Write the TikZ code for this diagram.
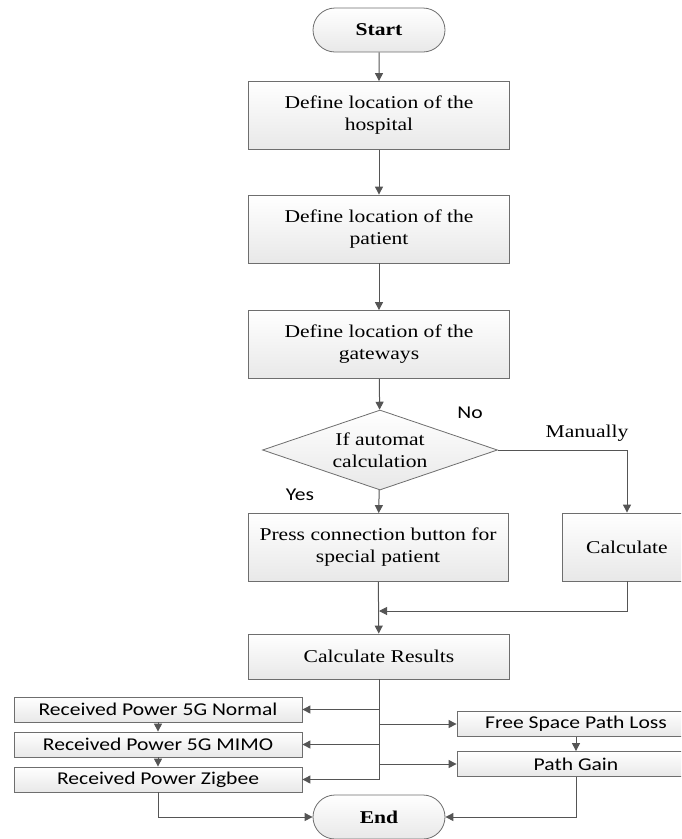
\documentclass[tikz,border=0pt]{standalone}
\usepackage{fontspec}
\setmainfont{Liberation Serif}[FakeStretch=1.2]
\newfontfamily\calibri{Carlito}[FakeStretch=1.2]
\usetikzlibrary{arrows.meta,shapes.geometric,shapes.misc}
\definecolor{linegray}{RGB}{85,85,85}
\definecolor{edgegray}{RGB}{110,110,110}
\definecolor{boxgray}{RGB}{232,232,232}

\begin{document}
\begin{tikzpicture}[x=1pt,y=-1pt,
  font=\fontsize{18}{22}\selectfont,
  box/.style={draw=edgegray, line width=0.8pt, top color=white, bottom color=boxgray, inner sep=0pt, align=center},
  bigbox/.style={box, minimum width=261pt, minimum height=68pt},
  small/.style={box, font=\calibri\fontsize{18}{22}\selectfont, minimum height=25pt},
  term/.style={box, rounded rectangle, minimum width=132pt, minimum height=44pt, font=\fontsize{18}{22}\selectfont\bfseries},
  decision/.style={box, diamond, aspect=2.94, minimum width=235pt, minimum height=80pt},
  line/.style={draw=linegray, line width=1pt},
  arr/.style={line, -{Triangle[length=8pt,width=8pt]}}]
\clip (0,0) rectangle (681,839);
\node[term] at (379,30) (start) {Start};
\node[bigbox] at (379,115.5) (hosp) {Define location of the\\hospital};
\node[bigbox] at (379,229) (pat) {Define location of the\\patient};
\node[bigbox] at (379,344.5) (gate) {Define location of the\\gateways};
\node[decision] at (380,450) (auto) {If automat\\calculation};
\node[bigbox, minimum width=260pt] at (378,547.5) (press) {Press connection button for\\special patient};
\node[box, minimum width=130pt, minimum height=68pt] at (627,547) (calc) {Calculate};
\node[bigbox, minimum height=45pt] at (379,656.5) (res) {Calculate Results};
\node[small, minimum width=288pt] at (158,709.5) (normal) {Received Power 5G Normal};
\node[small, minimum width=288pt] at (158,744.5) (mimo) {Received Power 5G MIMO};
\node[small, minimum width=288pt] at (158,779.5) (zigbee) {Received Power Zigbee};
\node[small, minimum width=238pt] at (576,724) (fspl) {Free Space Path Loss};
\node[small, minimum width=238pt] at (576,764) (gain) {Path Gain};
\node[term] at (379,817) (end) {End};
\node[font=\calibri\fontsize{18}{22}\selectfont] at (470,413) (no) {No};
\node at (587,433) (manual) {Manually};
\node[font=\calibri\fontsize{18}{22}\selectfont] at (300,495) (yes) {Yes};
\coordinate (join) at (379,611);
\coordinate (trunk) at (379,779.5);
\draw[arr] (start) -- (hosp);
\draw[arr] (hosp) -- (pat);
\draw[arr] (pat) -- (gate);
\draw[arr] (gate) -- (auto);
\draw[arr] (auto) -- (press);
\draw[arr] (auto.east) -| (calc.north);
\draw[arr] (calc.south) |- (join);
\draw[arr] (press) -- (res);
\draw[line] (res.south) -- (trunk);
\draw[arr] (res.south |- normal.east) -- (normal.east);
\draw[arr] (res.south |- mimo.east) -- (mimo.east);
\draw[arr] (trunk) -- (zigbee.east);
\draw[arr] (res.south |- fspl.west) -- (fspl.west);
\draw[arr] (res.south |- gain.west) -- (gain.west);
\draw[arr] (normal) -- (mimo);
\draw[arr] (mimo) -- (zigbee);
\draw[arr] (fspl) -- (gain);
\draw[arr] (zigbee.south) |- (end.west);
\draw[arr] (gain.south) |- (end.east);
\end{tikzpicture}
\end{document}
